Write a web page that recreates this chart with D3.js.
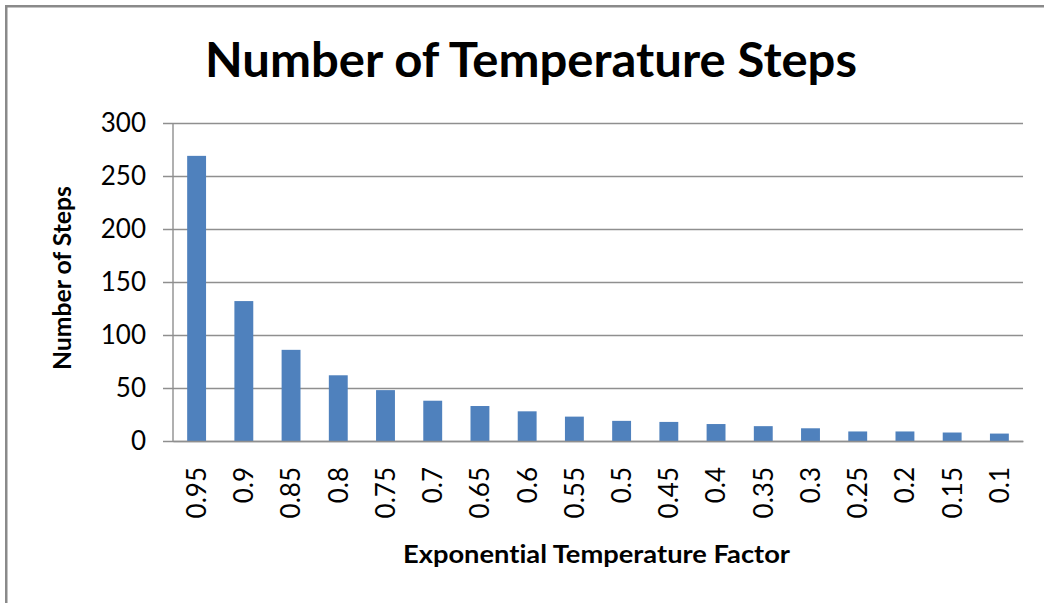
<!DOCTYPE html>
<html>
<head>
<meta charset="utf-8">
<script src="https://cdn.jsdelivr.net/npm/d3@7"></script>
<style>
  html, body { margin: 0; padding: 0; background: #ffffff; }
  svg { display: block; }
  text { font-family: Lato, "Open Sans", sans-serif; fill: #000; font-variant-ligatures: none; }
</style>
</head>
<body>
<script>
// Exponential cooling factor vs. number of temperature steps
const factors = ["0.95", "0.9", "0.85", "0.8", "0.75", "0.7", "0.65", "0.6", "0.55",
                 "0.5", "0.45", "0.4", "0.35", "0.3", "0.25", "0.2", "0.15", "0.1"];
const steps = [269, 132, 86, 62, 48, 38, 33, 28, 23, 19, 18, 16, 14, 12, 9, 9, 8, 7];
const yTicks = [0, 50, 100, 150, 200, 250, 300];

const chartTitle = "Number of Temperature Steps";
const xTitle = "Exponential Temperature Factor";
const yTitle = "Number of Steps";

const W = 1044, H = 603;
const plot = { left: 173, right: 1023, top: 123, bottom: 441 };

const svg = d3.select("body").append("svg")
  .attr("width", W).attr("height", H);

// outer chart frame (only top and left edges fall inside the view)
svg.append("rect")
  .attr("x", 6.25).attr("y", 6.25)
  .attr("width", W + 20).attr("height", H + 20)
  .attr("fill", "none")
  .attr("stroke", "#8a8a8a")
  .attr("stroke-width", 2.5);

const x = d3.scaleBand()
  .domain(factors)
  .range([plot.left, plot.right])
  .paddingInner(0.6)
  .paddingOuter(0.3);

const y = d3.scaleLinear()
  .domain([0, 300])
  .range([plot.bottom, plot.top]);

// y axis with gridlines
const yAxis = svg.append("g")
  .attr("transform", `translate(${plot.left},0)`)
  .call(d3.axisLeft(y)
    .tickValues(yTicks)
    .tickSizeInner(-(plot.right - plot.left))
    .tickSizeOuter(0)
    .tickPadding(27));
yAxis.select(".domain").remove();
yAxis.selectAll(".tick line")
  .attr("x1", -10)
  .attr("stroke", "#8f8f8f")
  .attr("stroke-width", 1.4);
yAxis.selectAll(".tick text")
  .attr("font-size", 26)
  .attr("font-family", "Lato, 'Open Sans', sans-serif")
  .attr("fill", "#111");

// vertical axis line
svg.append("line")
  .attr("x1", plot.left).attr("x2", plot.left)
  .attr("y1", y(300)).attr("y2", y(0))
  .attr("stroke", "#8f8f8f").attr("stroke-width", 1.4);

// bars
svg.append("g").selectAll("rect")
  .data(factors)
  .join("rect")
  .attr("x", d => x(d))
  .attr("width", x.bandwidth())
  .attr("y", (d, i) => y(steps[i]))
  .attr("height", (d, i) => y(0) - y(steps[i]))
  .attr("fill", "#4f81bd");

// x axis (category labels rotated)
const xAxis = svg.append("g")
  .attr("transform", `translate(0,${plot.bottom})`)
  .call(d3.axisBottom(x).tickSize(0).tickSizeOuter(0));
xAxis.select(".domain")
  .attr("stroke", "#8f8f8f").attr("stroke-width", 1.4);
xAxis.selectAll(".tick text")
  .attr("font-size", 26)
  .attr("font-family", "Lato, 'Open Sans', sans-serif")
  .attr("fill", "#111")
  .attr("text-anchor", "end")
  .attr("transform", "translate(0,26) rotate(-90)")
  .attr("x", 0).attr("y", 0)
  .attr("dy", "0.36em");

// chart title
svg.append("text")
  .attr("x", 205).attr("y", 77)
  .attr("font-size", 47)
  .attr("font-weight", "bold")
  .attr("textLength", 652)
  .attr("lengthAdjust", "spacingAndGlyphs")
  .text(chartTitle);

// x axis title
svg.append("text")
  .attr("x", 403).attr("y", 563)
  .attr("font-size", 24)
  .attr("font-weight", "bold")
  .attr("textLength", 387)
  .attr("lengthAdjust", "spacingAndGlyphs")
  .text(xTitle);

// y axis title
svg.append("text")
  .attr("transform", "translate(71,370) rotate(-90)")
  .attr("font-size", 24)
  .attr("font-weight", "bold")
  .attr("textLength", 184)
  .attr("lengthAdjust", "spacingAndGlyphs")
  .text(yTitle);
</script>
</body>
</html>
